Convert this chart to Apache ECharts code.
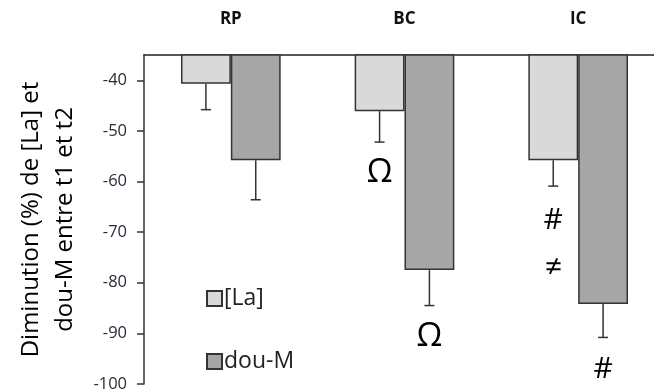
<!DOCTYPE html>
<html>
<head>
<meta charset="utf-8">
<script src="https://cdn.jsdelivr.net/npm/echarts@6/dist/echarts.min.js"></script>
<style>
  html, body { margin: 0; padding: 0; background: #fff; }
  #chart { width: 654px; height: 390px; }
</style>
</head>
<body>
<div id="chart"></div>
<script>
// groupes et valeurs
var categories = ['RP', 'BC', 'IC'];
var seriesNames = ['[La]', 'dou-M'];
var laValues = [-40.7, -46.1, -55.8];
var laErrors = [5.1, 6.1, 5.1];
var douValues = [-55.8, -77.5, -84.2];
var douErrors = [7.8, 7.0, 6.6];
var yTicks = [-100, -90, -80, -70, -60, -50, -40];

// annotations de significativite : [categorie, serie (0 = La, 1 = dou-M), valeur, texte]
var notes = [
  [1, 0, -58.3, 'Ω'],
  [1, 1, -90.6, 'Ω'],
  [2, 0, -67.6, '#'],
  [2, 0, -77.2, '≠'],
  [2, 1, -97.1, '#']
];

var FONT = '"Open Sans", "DejaVu Sans", sans-serif';
var BAR_W = 0.287; // part de la bande par barre

var chart = echarts.init(document.getElementById('chart'));

function barCenter(api, cat, side) {
  var c = api.coord([cat, 0]);
  var band = api.size([1, 0])[0];
  return c[0] + (side === 0 ? -1 : 1) * band * BAR_W / 2;
}

function errorRender(side) {
  return function (params, api) {
    var cat = api.value(0);
    var x = barCenter(api, cat, side);
    var y1 = api.coord([cat, api.value(1)])[1];
    var y2 = api.coord([cat, api.value(1) - api.value(2)])[1];
    var style = { stroke: '#333', lineWidth: 1.5 };
    return {
      type: 'group',
      children: [
        { type: 'line', shape: { x1: x, y1: y1, x2: x, y2: y2 }, style: style },
        { type: 'line', shape: { x1: x - 5, y1: y2, x2: x + 5, y2: y2 }, style: style }
      ]
    };
  };
}

var option = {
  animation: false,
  grid: { left: 144, top: 55, width: 521, height: 329, outerBoundsMode: 'none', containLabel: false },
  legend: {
    orient: 'vertical',
    left: 201,
    top: 282,
    itemGap: 40,
    itemWidth: 15,
    itemHeight: 15,
    icon: 'rect',
    textStyle: { fontFamily: FONT, fontSize: 23, color: '#222', padding: [0, 0, 0, -3] },
    data: seriesNames
  },
  xAxis: {
    type: 'category',
    position: 'top',
    data: categories,
    axisLine: { lineStyle: { color: '#222', width: 1.5 } },
    axisTick: { inside: true, length: 7, lineStyle: { color: '#222', width: 1.5 } },
    axisLabel: { margin: 27, fontFamily: FONT, fontWeight: 'bold', fontSize: 17, color: '#111' }
  },
  yAxis: {
    type: 'value',
    min: -100,
    max: -35,
    interval: 10,
    name: 'Diminution (%) de [La] et\ndou-M entre t1 et t2',
    nameLocation: 'middle',
    nameGap: 62,
    nameTextStyle: { fontFamily: FONT, fontSize: 24, color: '#000', lineHeight: 34 },
    splitLine: { show: false },
    axisLine: { show: true, lineStyle: { color: '#333', width: 1.5 } },
    axisTick: { show: true, length: 7, customValues: yTicks, lineStyle: { color: '#333', width: 1.5 } },
    axisLabel: { margin: 17, fontFamily: FONT, fontSize: 16.5, color: '#2a2a3a', customValues: yTicks }
  },
  series: [
    {
      name: seriesNames[0],
      type: 'bar',
      barWidth: (BAR_W * 100) + '%',
      barGap: '0%',
      clip: true,
      itemStyle: { color: '#d9d9d9', borderColor: '#333', borderWidth: 1.5 },
      data: laValues
    },
    {
      name: seriesNames[1],
      type: 'bar',
      barWidth: (BAR_W * 100) + '%',
      barGap: '0%',
      clip: true,
      itemStyle: { color: '#a6a6a6', borderColor: '#333', borderWidth: 1.5 },
      data: douValues
    },
    {
      type: 'custom',
      renderItem: errorRender(0),
      data: laValues.map(function (v, i) { return [i, v, laErrors[i]]; }),
      z: 3
    },
    {
      type: 'custom',
      renderItem: errorRender(1),
      data: douValues.map(function (v, i) { return [i, v, douErrors[i]]; }),
      z: 3
    },
    {
      type: 'custom',
      renderItem: function (params, api) {
        var n = notes[params.dataIndex];
        var x = barCenter(api, n[0], n[1]);
        var y = api.coord([n[0], n[2]])[1];
        return {
          type: 'text',
          x: x,
          y: y,
          style: {
            text: n[3],
            fontFamily: FONT,
            fontSize: n[3] === 'Ω' ? 33 : 30,
            fill: '#000',
            align: 'center',
            verticalAlign: 'middle'
          }
        };
      },
      data: notes.map(function (n) { return [n[0], n[2]]; }),
      z: 4
    }
  ]
};

chart.setOption(option);
</script>
</body>
</html>
